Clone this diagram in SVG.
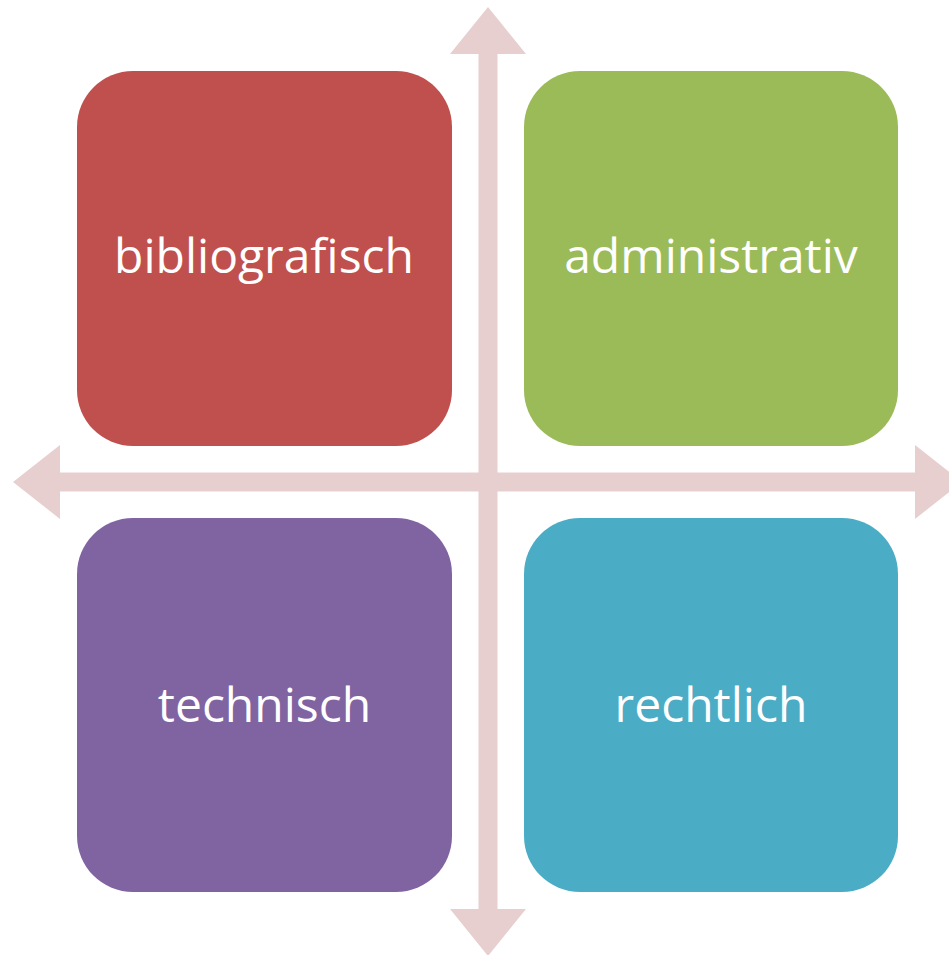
<svg xmlns="http://www.w3.org/2000/svg" width="949" height="955" viewBox="0 0 949 955">
<style>
.box{stroke:none}
.lbl{font-family:"Open Sans","Liberation Sans",Arial,sans-serif;font-size:48px;fill:#FFFFFF;text-anchor:middle}
.arr{fill:#E7CFD0;stroke:none}
</style>
<rect width="949" height="955" fill="#FFFFFF"/>
<g id="connectors">
<polygon class="arr" points="488,7 526,54 497.5,54 497.5,909 526,909 488,956 450,909 478.5,909 478.5,54 450,54"/>
<polygon class="arr" points="13,482 60,445 60,472.5 915,472.5 915,445 962,482 915,519 915,491.5 60,491.5 60,519"/>
</g>
<g id="bibliografisch">
<rect class="box" x="77" y="71" width="375" height="375" rx="56" ry="56" fill="#C0504D"/>
<text class="lbl" x="264" y="273">bibliografisch</text>
</g>
<g id="administrativ">
<rect class="box" x="524" y="71" width="374" height="375" rx="56" ry="56" fill="#9BBB59"/>
<text class="lbl" x="711" y="273">administrativ</text>
</g>
<g id="technisch">
<rect class="box" x="77" y="518" width="375" height="374" rx="56" ry="56" fill="#8064A2"/>
<text class="lbl" x="264.5" y="722">technisch</text>
</g>
<g id="rechtlich">
<rect class="box" x="524" y="518" width="374" height="374" rx="56" ry="56" fill="#4BACC6"/>
<text class="lbl" x="711" y="722">rechtlich</text>
</g>
</svg>
